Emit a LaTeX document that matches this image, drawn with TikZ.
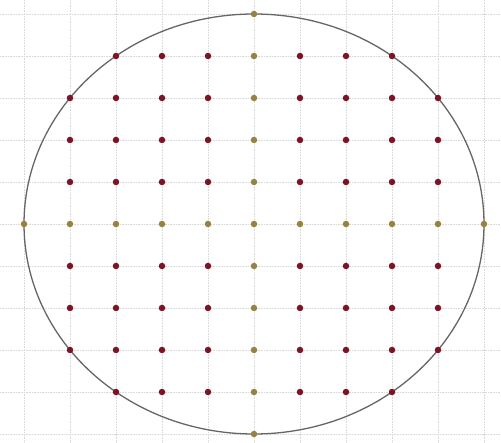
\documentclass[tikz,border=0pt]{standalone}
\begin{document}
\begin{tikzpicture}[x=1pt,y=-1pt,
  gridline/.style={draw=black!15, densely dotted, line width=0.6pt},
  rim/.style={draw=black!60, line width=1.3pt},
  reddot/.style={circle, fill={rgb,255:red,125;green,20;blue,35}, inner sep=0pt, minimum size=6.5pt},
  olivedot/.style={circle, fill={rgb,255:red,150;green,130;blue,65}, inner sep=0pt, minimum size=6.5pt}]
\useasboundingbox (0,0) rectangle (501,443);
\fill[white] (0,0) rectangle (501,443);
\foreach \k in {0,...,10} {
  \draw[gridline] ({24+46*\k},0) -- ({24+46*\k},443);
  \draw[gridline] (0,{14+42*\k}) -- (501,{14+42*\k});
}
\coordinate (c) at (254,224);
\draw[rim] (c) ellipse [x radius=230, y radius=210];
\foreach \i in {-5,...,5} {
  \foreach \j in {-5,...,5} {
    \pgfmathtruncatemacro{\r}{\i*\i+\j*\j}
    \ifnum\r<26
      \pgfmathtruncatemacro{\ax}{\i*\j}
      \ifnum\ax=0
        \node[olivedot] (p\i\j) at ({254+46*\i},{224+42*\j}) {};
      \else
        \node[reddot] (p\i\j) at ({254+46*\i},{224+42*\j}) {};
      \fi
    \fi
  }
}
\end{tikzpicture}
\end{document}
